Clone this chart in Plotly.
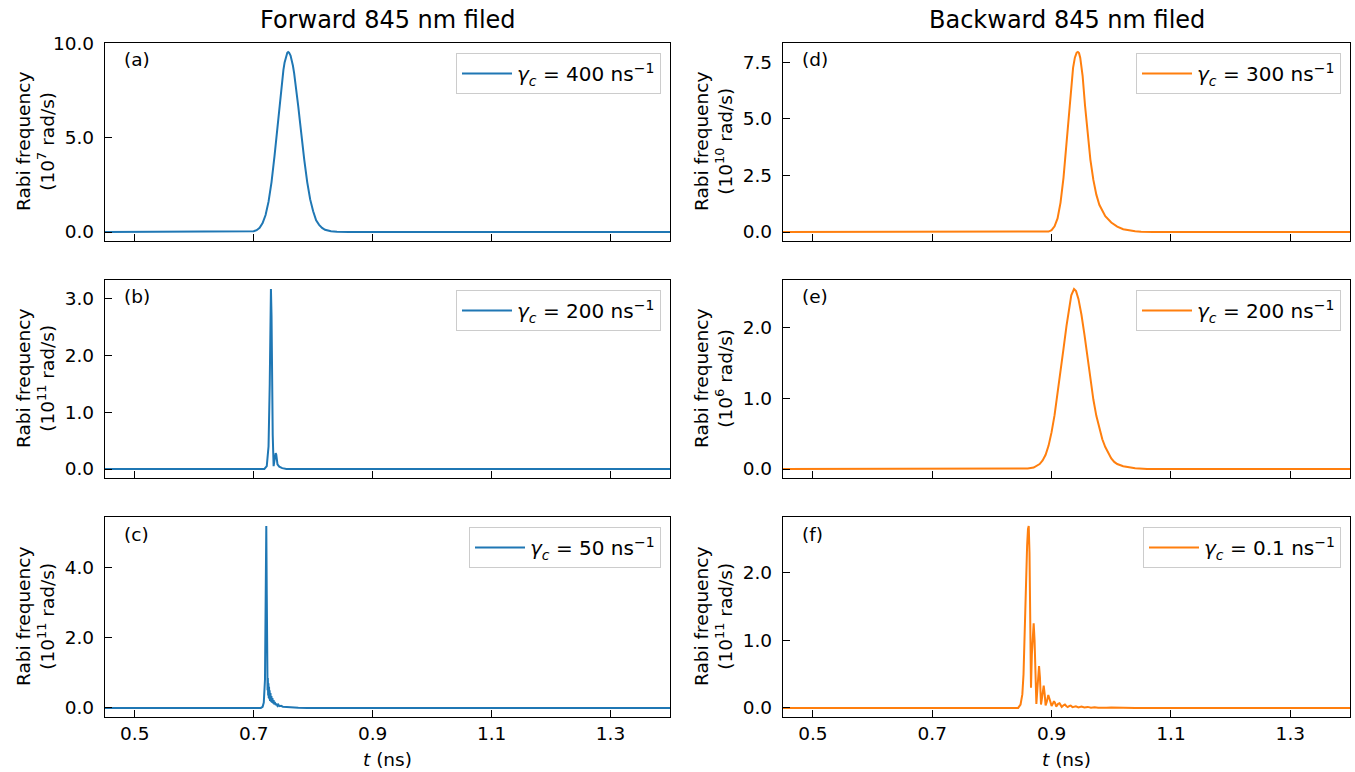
import plotly.graph_objects as go

# ---------------- data ----------------
x_tick_vals = [0.5, 0.7, 0.9, 1.1, 1.3]
x_tick_text = ["0.5", "0.7", "0.9", "1.1", "1.3"]
x_range = [0.45, 1.4]

# (a) forward, gamma_c = 400 ns^-1, units 1e7 rad/s
t_a = [0.45, 0.69, 0.70, 0.705, 0.71, 0.715, 0.72, 0.725, 0.73, 0.735, 0.7375, 0.74,
       0.7425, 0.745, 0.748, 0.75, 0.752, 0.755, 0.7565, 0.758, 0.7595, 0.762, 0.764,
       0.766, 0.768, 0.770, 0.7725, 0.775, 0.7775, 0.780, 0.785, 0.79, 0.795, 0.80,
       0.805, 0.81, 0.815, 0.82, 0.83, 0.84, 0.86, 1.40]
om_a = [0.0, 0.005, 0.04, 0.097, 0.22, 0.47, 0.90, 1.61, 2.65, 4.03, 4.81, 5.63,
        6.45, 7.25, 8.11, 8.60, 9.00, 9.41, 9.51, 9.55, 9.52, 9.36, 9.13,
        8.82, 8.43, 7.98, 7.34, 6.65, 5.94, 5.21, 3.84, 2.65, 1.73, 1.10,
        0.62, 0.38, 0.22, 0.12, 0.04, 0.012, 0.0, 0.0]

# (b) forward, gamma_c = 200 ns^-1, units 1e11 rad/s
t_b = [0.45, 0.718, 0.722, 0.725, 0.727, 0.728, 0.729, 0.730, 0.731, 0.732, 0.7335,
       0.735, 0.737, 0.738, 0.740, 0.743, 0.748, 0.755, 1.40]
om_b = [0.0, 0.0, 0.05, 0.4, 1.5, 2.6, 3.17, 2.7, 1.5, 0.6, 0.05,
        0.15, 0.28, 0.25, 0.08, 0.04, 0.015, 0.0, 0.0]

# (c) forward, gamma_c = 50 ns^-1, units 1e11 rad/s
t_c = [0.45, 0.712, 0.715, 0.717, 0.719, 0.7205, 0.7212, 0.722, 0.7228, 0.7233, 0.7238,
       0.7243, 0.7248, 0.7253, 0.7258, 0.7263, 0.7268, 0.7275, 0.7282, 0.729, 0.7298,
       0.7306, 0.7315, 0.7325, 0.7335, 0.7345, 0.7355, 0.737, 0.7385, 0.740, 0.7415,
       0.743, 0.746, 0.749, 0.753, 0.758, 0.765, 0.775, 0.79, 1.40]
om_c = [0.0, 0.0, 0.03, 0.15, 0.8, 3.0, 5.17, 3.2, 0.9, 0.5, 0.85,
        0.35, 0.7, 0.28, 0.6, 0.25, 0.5, 0.2, 0.42, 0.18, 0.34,
        0.15, 0.28, 0.13, 0.22, 0.10, 0.17, 0.08, 0.12, 0.06, 0.09,
        0.05, 0.06, 0.035, 0.03, 0.015, 0.008, 0.003, 0.0, 0.0]

# (d) backward, gamma_c = 300 ns^-1, units 1e10 rad/s
t_d = [0.45, 0.89, 0.895, 0.90, 0.905, 0.91, 0.915, 0.92, 0.925, 0.93, 0.933, 0.936,
       0.939, 0.942, 0.944, 0.946, 0.948, 0.950, 0.952, 0.956, 0.96, 0.965, 0.97, 0.975,
       0.98, 0.985, 0.99, 1.0, 1.01, 1.02, 1.03, 1.04, 1.05, 1.07, 1.40]
om_d = [0.0, 0.0, 0.02, 0.08, 0.25, 0.6, 1.3, 2.4, 3.9, 5.6, 6.5, 7.25,
        7.7, 7.92, 7.95, 7.9, 7.7, 7.35, 6.9, 5.6, 4.4, 3.2, 2.3, 1.65,
        1.2, 0.92, 0.7, 0.42, 0.24, 0.12, 0.06, 0.03, 0.015, 0.0, 0.0]

# (e) backward, gamma_c = 200 ns^-1, units 1e6 rad/s
t_e = [0.45, 0.85, 0.86, 0.87, 0.875, 0.88, 0.885, 0.89, 0.895, 0.90, 0.905, 0.91,
       0.915, 0.92, 0.925, 0.93, 0.933, 0.9376, 0.941, 0.945, 0.95, 0.955, 0.96, 0.965,
       0.97, 0.975, 0.98, 0.985, 0.99, 0.995, 1.0, 1.005, 1.01, 1.02, 1.03, 1.04, 1.06, 1.40]
om_e = [0.0, 0.0, 0.008, 0.02, 0.04, 0.07, 0.12, 0.2, 0.33, 0.52, 0.76, 1.05,
        1.37, 1.7, 2.02, 2.3, 2.45, 2.54, 2.51, 2.40, 2.18, 1.9, 1.58, 1.25,
        0.98, 0.75, 0.57, 0.42, 0.31, 0.22, 0.15, 0.1, 0.07, 0.04, 0.02, 0.01, 0.0, 0.0]

# (f) backward, gamma_c = 0.1 ns^-1, units 1e11 rad/s
t_f = [0.45, 0.844, 0.848, 0.851, 0.853, 0.855, 0.857, 0.859, 0.8605, 0.8617, 0.863,
       0.8645, 0.8655, 0.867, 0.869, 0.870, 0.8715, 0.873, 0.8745, 0.876, 0.878, 0.879,
       0.8805, 0.8823, 0.884, 0.886, 0.8868, 0.8885, 0.890, 0.892, 0.8945, 0.897, 0.900,
       0.902, 0.904, 0.906, 0.9077, 0.911, 0.9133, 0.915, 0.917, 0.920, 0.9223, 0.925,
       0.927, 0.930, 0.932, 0.935, 0.938, 0.9407, 0.945, 0.950, 0.955, 0.9606, 0.966,
       0.972, 0.978, 0.985, 0.992, 1.0, 1.01, 1.02, 1.04, 1.40]
om_f = [0.0, 0.0, 0.05, 0.2, 0.5, 1.2, 1.9, 2.4, 2.65, 2.69, 2.3,
        1.2, 0.30, 0.8, 1.2, 1.25, 1.0, 0.45, 0.06, 0.25, 0.58, 0.62,
        0.45, 0.05, 0.15, 0.31, 0.33, 0.2, 0.035, 0.09, 0.19, 0.12, 0.03,
        0.06, 0.10, 0.07, 0.02, 0.06, 0.07, 0.045, 0.015, 0.04, 0.05, 0.025,
        0.012, 0.03, 0.035, 0.012, 0.018, 0.025, 0.008, 0.02, 0.005, 0.015, 0.004,
        0.01, 0.003, 0.008, 0.002, 0.005, 0.001, 0.003, 0.0, 0.0]

yticks_a = [0.0, 5.0, 10.0]
yticks_b = [0.0, 1.0, 2.0, 3.0]
yticks_c = [0.0, 2.0, 4.0]
yticks_d = [0.0, 2.5, 5.0, 7.5]
yticks_e = [0.0, 1.0, 2.0]
yticks_f = [0.0, 1.0, 2.0]

gammas = ["400", "200", "50", "300", "200", "0.1"]
exponents = [7, 11, 11, 10, 6, 11]
panel_labels = ["(a)", "(b)", "(c)", "(d)", "(e)", "(f)"]
column_titles = ["Forward 845 nm filed", "Backward 845 nm filed"]

BLUE = "#1f77b4"
ORANGE = "#ff7f0e"

# ---------------- layout geometry ----------------
W, H = 1355, 772
col_px = [(105, 670), (783, 1350)]
row_px = [(43, 241), (280, 478), (517, 717)]
FONT = "DejaVu Sans"
TICK_FS = 18.5

panels = [
    (t_a, om_a, yticks_a, 0, 0, BLUE),
    (t_b, om_b, yticks_b, 1, 0, BLUE),
    (t_c, om_c, yticks_c, 2, 0, BLUE),
    (t_d, om_d, yticks_d, 0, 1, ORANGE),
    (t_e, om_e, yticks_e, 1, 1, ORANGE),
    (t_f, om_f, yticks_f, 2, 1, ORANGE),
]

fig = go.Figure()
layout = dict(
    width=W, height=H,
    margin=dict(l=0, r=0, t=0, b=0, autoexpand=False),
    paper_bgcolor="white", plot_bgcolor="white",
    font=dict(family=FONT, size=TICK_FS, color="black"),
    showlegend=True,
)
annotations = []

for i, (t, om, yt, row, col, color) in enumerate(panels):
    n = i + 1
    sfx = "" if n == 1 else str(n)
    x0, x1 = col_px[col]
    y0, y1 = row_px[row]
    xdom = [x0 / W, x1 / W]
    ydom = [1 - y1 / H, 1 - y0 / H]
    peak = max(om)
    leg = "legend" + sfx
    fig.add_trace(go.Scatter(
        x=t, y=om, mode="lines", line=dict(color=color, width=2),
        name=f"<i>γ</i><sub><i>c</i></sub> = {gammas[i]} ns<sup>−1</sup>",
        xaxis="x" + sfx, yaxis="y" + sfx, legend=leg, showlegend=True,
    ))
    common = dict(showline=True, mirror=True, linecolor="black", linewidth=1.3,
                  ticks="inside", ticklen=7, tickwidth=1.3, tickcolor="black",
                  showgrid=False, zeroline=False, automargin=False,
                  tickfont=dict(family=FONT, size=TICK_FS, color="black"))
    layout["xaxis" + sfx] = dict(
        domain=xdom, range=x_range, anchor="y" + sfx,
        tickvals=x_tick_vals, ticktext=x_tick_text,
        showticklabels=(row == 2), **common)
    layout["yaxis" + sfx] = dict(
        domain=ydom, range=[-0.05 * peak, 1.05 * peak], anchor="x" + sfx,
        tickvals=yt, ticktext=[f"{v:.1f}" for v in yt], ticklabelstandoff=6,
        **common)
    layout[leg] = dict(
        x=(x1 - 9) / W, y=1 - (y0 + 10) / H, xanchor="right", yanchor="top",
        xref="paper", yref="paper",
        bgcolor="white", bordercolor="#cccccc", borderwidth=1,
        font=dict(family=FONT, size=20, color="black"), itemwidth=50)
    annotations.append(dict(
        text=panel_labels[i], xref=f"x{sfx} domain", yref=f"y{sfx} domain",
        x=0.03, y=0.915, xanchor="left", yanchor="middle", showarrow=False,
        font=dict(family=FONT, size=TICK_FS, color="black")))
    annotations.append(dict(
        text=f"Rabi frequency<br>(10<sup>{exponents[i]}</sup> rad/s)",
        xref="paper", yref="paper", x=(x0 - 70) / W, y=1 - (y0 + y1) / 2 / H,
        xanchor="center", yanchor="middle", textangle=-90, showarrow=False,
        font=dict(family=FONT, size=TICK_FS, color="black")))

for col in range(2):
    x0, x1 = col_px[col]
    annotations.append(dict(
        text=column_titles[col], xref="paper", yref="paper",
        x=(x0 + x1) / 2 / W, y=1 - 20 / H, xanchor="center", yanchor="middle",
        showarrow=False, font=dict(family=FONT, size=24, color="black")))
    annotations.append(dict(
        text="<i>t</i> (ns)", xref="paper", yref="paper",
        x=(x0 + x1) / 2 / W, y=1 - 759 / H, xanchor="center", yanchor="middle",
        showarrow=False, font=dict(family=FONT, size=TICK_FS, color="black")))

layout["annotations"] = annotations
fig.update_layout(**layout)
fig.write_html(
    "out.html",
    config={"displayModeBar": False},
    post_script="document.body.style.margin='0';document.body.style.overflow='hidden';",
)
